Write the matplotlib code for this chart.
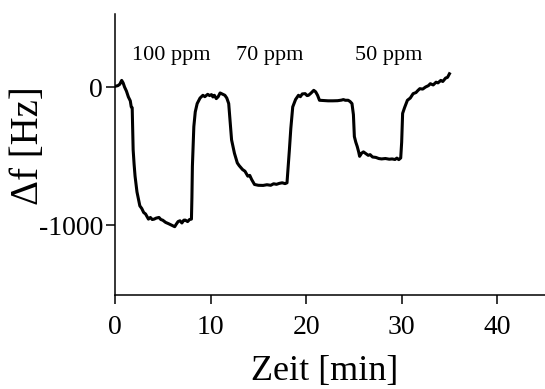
import matplotlib

matplotlib.use("Agg")
import matplotlib.pyplot as plt

# time [min] and frequency shift [Hz]
time_min = [
    0.0, 0.3, 0.5, 0.7, 0.85, 1.0, 1.2, 1.4, 1.6, 1.7, 1.8, 1.9, 2.0, 2.1, 2.3, 2.6,
    2.8, 3.0, 3.2, 3.5, 3.7, 3.9, 4.1, 4.3, 4.6, 4.8, 5.0, 5.3, 5.6, 5.9, 6.25,
    6.4, 6.6, 6.8, 7.0, 7.2, 7.35, 7.6, 7.8, 8.0, 8.05, 8.1, 8.25, 8.4, 8.6, 8.9,
    9.2, 9.4, 9.7, 9.9, 10.1, 10.25, 10.4, 10.6, 10.8, 11.0, 11.2, 11.5, 11.7,
    11.9, 12.05, 12.2, 12.5, 12.8, 13.0, 13.35, 13.6, 13.9, 14.1, 14.3, 14.6,
    15.0, 15.5, 15.9, 16.3, 16.6, 16.9, 17.2, 17.5, 17.8, 18.0, 18.1, 18.25,
    18.4, 18.6, 18.9, 19.2, 19.4, 19.6, 19.9, 20.1, 20.25, 20.5, 20.8, 21.0,
    21.2, 21.4, 21.8, 22.3, 22.8, 23.3, 23.7, 23.9, 24.1, 24.4, 24.6, 24.8,
    24.95, 25.05, 25.2, 25.35, 25.5, 25.6, 25.8, 26.0, 26.25, 26.5, 26.7, 26.95,
    27.3, 27.6, 27.9, 28.3, 28.7, 29.0, 29.3, 29.5, 29.7, 29.9, 30.0, 30.1,
    30.3, 30.6, 30.9, 31.2, 31.5, 31.7, 31.9, 32.2, 32.5, 32.8, 33.0, 33.3,
    33.6, 33.8, 34.1, 34.3, 34.6, 34.8, 35.0,
]
delta_f = [
    5, 10, 20, 48, 30, 0, -30, -72, -100, -144, -150, -455, -560, -646, -760, -861,
    -880, -909, -920, -957, -945, -960, -957, -950, -945, -960, -965, -981, -990, -1000, -1012,
    -995, -975, -969, -985, -965, -964, -975, -960, -957, -800, -574, -287, -180, -120, -80,
    -60, -70, -53, -62, -55, -72, -60, -84, -70, -43, -50, -60, -80,
    -120, -250, -383, -480, -550, -570, -598, -610, -646, -640, -670, -706,
    -712, -713, -708, -712, -701, -705, -698, -694, -700, -694, -600, -455,
    -300, -144, -90, -60, -70, -50, -48, -62, -60, -45, -24, -35,
    -60, -96, -98, -100, -100, -99, -95, -91, -96, -96, -105, -120,
    -200, -359, -400, -431, -470, -502, -480, -470, -483, -495, -490, -507,
    -510, -518, -521, -518, -523, -521, -525, -515, -526, -514, -400, -191,
    -150, -96, -80, -48, -40, -25, -12, -15, 0, 10, 24, 15,
    35, 30, 48, 40, 65, 70, 96,
]

labels = ["100 ppm", "70 ppm", "50 ppm"]
label_x = [5.9, 16.2, 28.6]
label_y = 230

plt.rcParams["font.family"] = ["Liberation Serif", "DejaVu Serif"]
plt.rcParams["axes.unicode_minus"] = False

fig = plt.figure(figsize=(5.45, 3.89), dpi=100)
ax = fig.add_axes([0.211, 0.2416, 0.789, 0.7224])

ax.plot(time_min, delta_f, color="black", linewidth=2.2)

for text, x in zip(labels, label_x):
    ax.text(x, label_y, text, ha="center", va="center", fontsize=16)

ax.set_xlim(0, 45)
ax.set_ylim(-1507, 529)
ax.set_xticks([0, 10, 20, 30, 40])
ax.set_yticks([-1000, 0])
ax.tick_params(direction="out", length=6.5, width=1.1, labelsize=20)
ax.tick_params(axis="x", pad=8)
ax.tick_params(axis="y", pad=2)

for side in ("top", "right"):
    ax.spines[side].set_visible(False)
for side in ("left", "bottom"):
    ax.spines[side].set_linewidth(1.1)

ax.set_xlabel("Zeit [min]", fontsize=26)
ax.xaxis.set_label_coords(0.488, -0.302)
ax.xaxis.label.set_verticalalignment("baseline")

ax.set_ylabel("\u0394f [Hz]", fontsize=28)
ax.yaxis.set_label_coords(-0.2, 0.53)
ax.yaxis.label.set_verticalalignment("center")

fig.savefig("out.png", dpi=100)
